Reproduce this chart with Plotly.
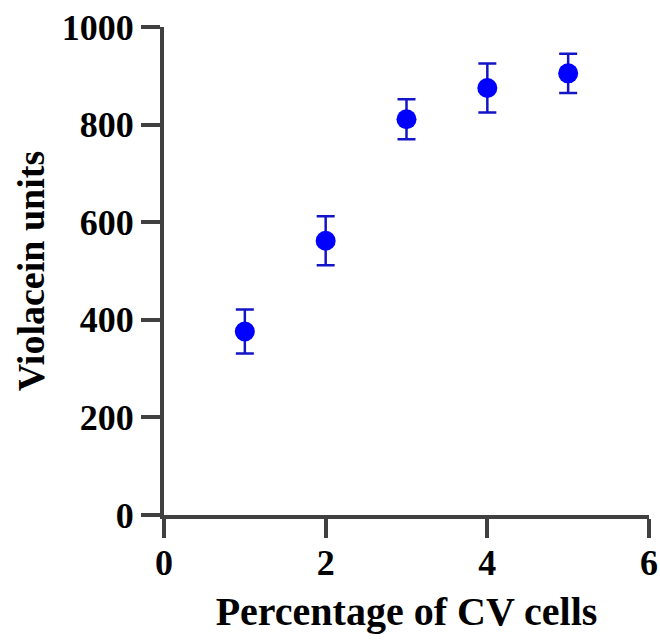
import plotly.graph_objects as go

x_values = [1, 2, 3, 4, 5]
y_means = [376, 562, 811, 875, 905]
y_errors = [45, 50, 41, 50, 40]
x_ticks = [0, 2, 4, 6]
y_ticks = [0, 200, 400, 600, 800, 1000]

FONT = "Times New Roman, Liberation Serif, serif"
AXIS_COLOR = "#404040"

fig = go.Figure()
fig.add_trace(go.Scatter(
    x=x_values, y=y_means, mode="markers",
    marker=dict(size=20, color="#0000FF"),
    error_y=dict(type="data", array=y_errors, visible=True,
                 color="#1414C8", thickness=2.5, width=9),
    showlegend=False,
))

axis_common = dict(
    showline=True, linewidth=4, linecolor=AXIS_COLOR,
    ticks="outside", ticklen=19, tickwidth=4, tickcolor=AXIS_COLOR,
    showgrid=False, zeroline=False, automargin=False,
    ticklabeloverflow="allow",
    tickfont=dict(family=FONT, size=36, color="black", weight="bold"),
)

fig.update_layout(
    width=660, height=641,
    margin=dict(l=164, r=11, t=27, b=126),
    paper_bgcolor="white", plot_bgcolor="white",
    xaxis=dict(range=[0, 6], tickvals=x_ticks, ticklabelstandoff=-6, **axis_common,
               title=dict(text="Percentage of CV cells", standoff=16,
                          font=dict(family=FONT, size=40, color="black", weight="bold"))),
    yaxis=dict(range=[0, 1000], tickvals=y_ticks, **axis_common,
               title=dict(text="Violacein units", standoff=6,
                          font=dict(family=FONT, size=38, color="black", weight="bold"))),
)

fig.write_html(
    "out.html",
    config={"displayModeBar": False},
    post_script="document.body.style.margin='0';document.body.style.overflow='hidden';",
)
